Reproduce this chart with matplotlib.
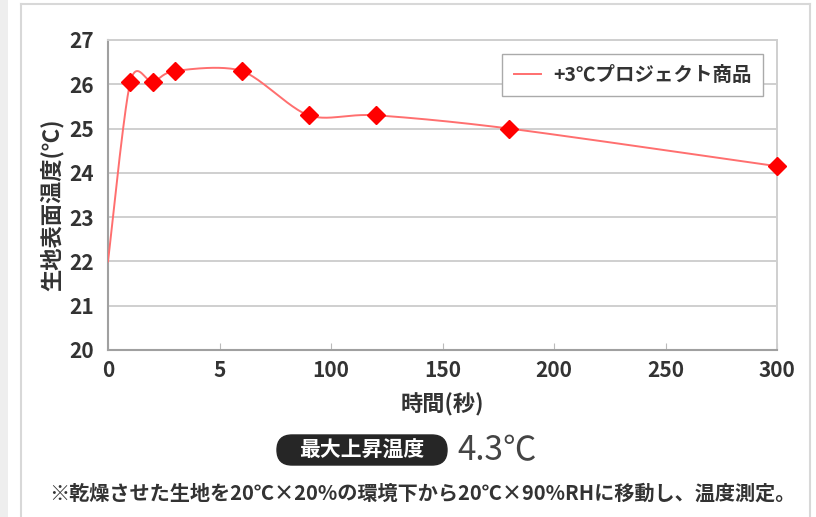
import numpy as np
import matplotlib
matplotlib.use("Agg")
import matplotlib.pyplot as plt
from matplotlib.lines import Line2D
from matplotlib.patches import FancyBboxPatch, Rectangle

plt.rcParams['font.family'] = ['Noto Sans CJK JP', 'DejaVu Sans']

# -----------------------------
# Data
# -----------------------------
time_s = [0, 1, 2, 3, 6, 90, 120, 180, 300]
temp_c = [22.0, 26.05, 26.05, 26.3, 26.3, 25.3, 25.3, 25.0, 24.15]
x_ticks = [0, 5, 100, 150, 200, 250, 300]
y_ticks = [20, 21, 22, 23, 24, 25, 26, 27]
series_label = "+3℃プロジェクト商品"
x_label = "時間(秒)"
y_label = "生地表面温度(℃)"
badge_text = "最大上昇温度"
badge_value = "4.3℃"
note_text = "※乾燥させた生地を20℃×20%の環境下から20℃×90%RHに移動し、温度測定。"

# piecewise time axis used by the original chart (seconds -> slot units)
scale_t = [0, 6, 90, 300]
scale_u = [0, 1.2, 1.8, 6]


def fwd(t):
    return np.interp(t, scale_t, scale_u)


def inv(u):
    return np.interp(u, scale_u, scale_t)


def smooth_curve(u, y, n=40, k=1 / 7):
    # Bezier smoothing like a spreadsheet "smoothed line"
    pts = np.column_stack([u, y])
    out = []
    for i in range(len(pts) - 1):
        p0, p3 = pts[i], pts[i + 1]
        prev = pts[i - 1] if i > 0 else pts[i]
        nxt = pts[i + 2] if i + 2 < len(pts) else pts[i + 1]
        p1 = p0 + (p3 - prev) * k
        p2 = p3 - (nxt - p0) * k
        s = np.linspace(0, 1, n)[:, None]
        seg = (1 - s) ** 3 * p0 + 3 * (1 - s) ** 2 * s * p1 + 3 * (1 - s) * s ** 2 * p2 + s ** 3 * p3
        out.append(seg if i == 0 else seg[1:])
    return np.vstack(out)


fig = plt.figure(figsize=(8.16, 5.17), dpi=100)
ax = fig.add_axes([108 / 816, 1 - 350 / 517, (777 - 108) / 816, 310 / 517])
ax.set_xscale('function', functions=(fwd, inv))

curve = smooth_curve(fwd(np.array(time_s, dtype=float)), np.array(temp_c))
ax.plot(inv(curve[:, 0]), curve[:, 1], color='#ff6f6f', linewidth=1.4, label=series_label, zorder=3)
ax.plot(time_s[1:], temp_c[1:], linestyle='none', marker='D', markersize=9.5,
        color='#ff0000', markeredgecolor='#ff0000', zorder=4, clip_on=False)

ax.set_xlim(0, 300)
ax.set_ylim(20, 27)
ax.set_xticks(x_ticks)
ax.set_xticklabels([str(t) for t in x_ticks])
ax.set_yticks(y_ticks)
ax.set_yticklabels([str(t) for t in y_ticks])
ax.yaxis.grid(True, color='#cfcfcf', linewidth=1.4)
ax.set_axisbelow(True)
ax.tick_params(axis='x', direction='in', length=5, color='#bbbbbb', pad=7,
               labelsize=15, labelcolor='#333333')
ax.tick_params(axis='y', length=0, pad=10, labelsize=15, labelcolor='#333333')
for lab in ax.get_xticklabels() + ax.get_yticklabels():
    lab.set_fontweight('bold')
for side in ['left', 'bottom']:
    ax.spines[side].set_color('#a0a0a0')
    ax.spines[side].set_linewidth(1.5)
ax.spines['right'].set_color('#cfcfcf')
ax.spines['top'].set_color('#cfcfcf')
ax.spines['right'].set_linewidth(1.4)
ax.spines['top'].set_linewidth(1.4)

ax.set_xlabel(x_label, fontsize=16, fontweight='bold', color='#333333')
ax.xaxis.set_label_coords(0.5, -0.14)
ax.set_ylabel(y_label, fontsize=16, fontweight='bold', color='#333333')
ax.yaxis.set_label_coords(-0.066, 0.47)

leg = ax.legend(loc='upper right', bbox_to_anchor=(0.979, 0.955), borderaxespad=0,
                fancybox=False, framealpha=1, edgecolor='#aaaaaa', handlelength=1.4,
                handletextpad=0.6, borderpad=0.6, prop={'size': 14, 'weight': 'bold'})
for t in leg.get_texts():
    t.set_color('#333333')

# page frame around the figure
fig.add_artist(Rectangle((0, 0), 8 / 816, 1, transform=fig.transFigure,
                         facecolor='#eeeeee', edgecolor='none'))
fig.add_artist(Line2D([21 / 816, 21 / 816], [0, 1 - 4 / 517], transform=fig.transFigure,
                      color='#d8d8d8', linewidth=1.5))
fig.add_artist(Line2D([21 / 816, 810 / 816], [1 - 4 / 517, 1 - 4 / 517], transform=fig.transFigure,
                      color='#d8d8d8', linewidth=1.5))
fig.add_artist(Line2D([810 / 816, 810 / 816], [0, 1 - 4 / 517], transform=fig.transFigure,
                      color='#d8d8d8', linewidth=1.5))

# badge + value
badge = FancyBboxPatch((2.77, 0.52), 1.70, 0.30, boxstyle='round,pad=0,rounding_size=0.15',
                       transform=fig.dpi_scale_trans, facecolor='#262626', edgecolor='#262626')
fig.add_artist(badge)
fig.text(3.62, 0.665, badge_text, transform=fig.dpi_scale_trans, ha='center', va='center',
         fontsize=15, fontweight='bold', color='white')
fig.text(4.57, 0.665, badge_value, transform=fig.dpi_scale_trans, ha='left', va='center',
         fontsize=24, color='#444444')
fig.text(4.22, 0.235, note_text, transform=fig.dpi_scale_trans, ha='center', va='center',
         fontsize=14.5, fontweight='bold', color='#333333')

fig.savefig('out.png', dpi=100)
